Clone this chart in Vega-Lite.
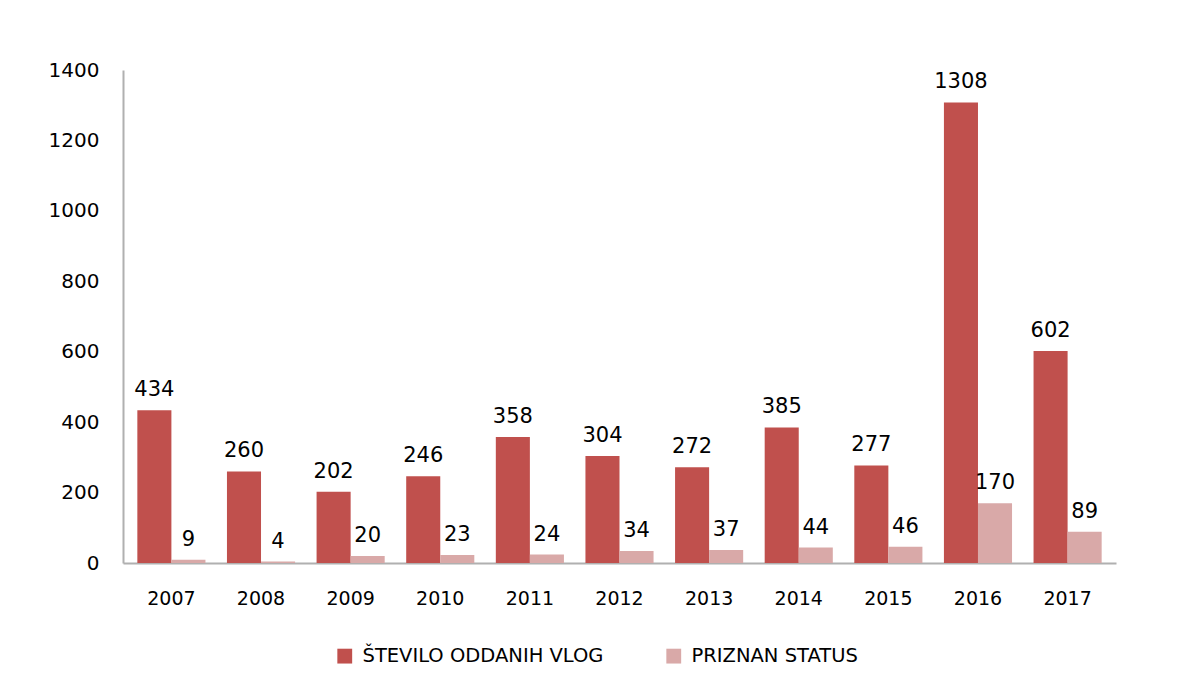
{
  "$schema": "https://vega.github.io/schema/vega-lite/v6.json",
  "autosize": "none",
  "width": 993,
  "height": 493,
  "padding": {"left": 123, "top": 70, "right": 65, "bottom": 128},
  "background": "white",
  "config": {"view": {"stroke": null}, "font": "DejaVu Sans"},
  "data": {"values": [
    {"year": "2007", "series": "ŠTEVILO ODDANIH VLOG", "value": 434},
    {"year": "2007", "series": "PRIZNAN STATUS", "value": 9},
    {"year": "2008", "series": "ŠTEVILO ODDANIH VLOG", "value": 260},
    {"year": "2008", "series": "PRIZNAN STATUS", "value": 4},
    {"year": "2009", "series": "ŠTEVILO ODDANIH VLOG", "value": 202},
    {"year": "2009", "series": "PRIZNAN STATUS", "value": 20},
    {"year": "2010", "series": "ŠTEVILO ODDANIH VLOG", "value": 246},
    {"year": "2010", "series": "PRIZNAN STATUS", "value": 23},
    {"year": "2011", "series": "ŠTEVILO ODDANIH VLOG", "value": 358},
    {"year": "2011", "series": "PRIZNAN STATUS", "value": 24},
    {"year": "2012", "series": "ŠTEVILO ODDANIH VLOG", "value": 304},
    {"year": "2012", "series": "PRIZNAN STATUS", "value": 34},
    {"year": "2013", "series": "ŠTEVILO ODDANIH VLOG", "value": 272},
    {"year": "2013", "series": "PRIZNAN STATUS", "value": 37},
    {"year": "2014", "series": "ŠTEVILO ODDANIH VLOG", "value": 385},
    {"year": "2014", "series": "PRIZNAN STATUS", "value": 44},
    {"year": "2015", "series": "ŠTEVILO ODDANIH VLOG", "value": 277},
    {"year": "2015", "series": "PRIZNAN STATUS", "value": 46},
    {"year": "2016", "series": "ŠTEVILO ODDANIH VLOG", "value": 1308},
    {"year": "2016", "series": "PRIZNAN STATUS", "value": 170},
    {"year": "2017", "series": "ŠTEVILO ODDANIH VLOG", "value": 602},
    {"year": "2017", "series": "PRIZNAN STATUS", "value": 89}
  ]},
  "encoding": {
    "x": {"field": "year", "type": "nominal", "scale": {"paddingInner": 0.24, "paddingOuter": 0.16},
      "axis": {"title": null, "labelAngle": 0, "labelFontSize": 19, "labelColor": "#000", "labelPadding": 26, "ticks": false, "domainColor": "#b0b0b0", "domainWidth": 2}},
    "xOffset": {"field": "series", "type": "nominal", "sort": ["ŠTEVILO ODDANIH VLOG", "PRIZNAN STATUS"]},
    "y": {"field": "value", "type": "quantitative", "scale": {"domain": [0, 1400]},
      "axis": {"title": null, "values": [0, 200, 400, 600, 800, 1000, 1200, 1400], "format": "d", "grid": false, "ticks": false, "labelFontSize": 20, "labelColor": "#000", "labelPadding": 24, "domainColor": "#b0b0b0", "domainWidth": 2}}
  },
  "layer": [
    {
      "mark": {"type": "bar"},
      "encoding": {
        "color": {"field": "series", "type": "nominal", "sort": ["ŠTEVILO ODDANIH VLOG", "PRIZNAN STATUS"],
          "scale": {"domain": ["ŠTEVILO ODDANIH VLOG", "PRIZNAN STATUS"], "range": ["#C0504D", "#D9A9A8"]},
          "legend": {"title": null, "orient": "none", "legendX": 212, "legendY": 576, "direction": "horizontal", "symbolType": "square", "symbolSize": 220, "symbolStrokeWidth": 0, "labelFontSize": 19.5, "labelColor": "#000", "columnPadding": 60, "labelLimit": 400, "labelOffset": 8}}
      }
    },
    {
      "mark": {"type": "text", "baseline": "bottom", "dy": -10, "fontSize": 21, "color": "#000"},
      "encoding": {"text": {"field": "value", "type": "quantitative"}}
    }
  ]
}
